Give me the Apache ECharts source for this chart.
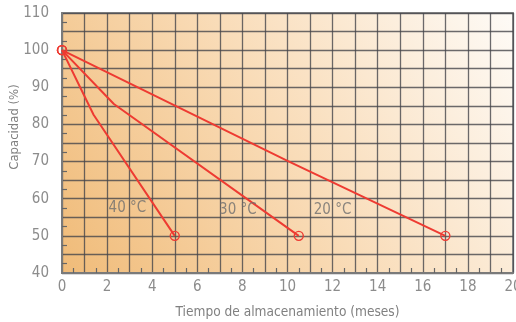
<!DOCTYPE html>
<html>
<head>
<meta charset="utf-8">
<script src="https://cdn.jsdelivr.net/npm/echarts@6/dist/echarts.min.js"></script>
<style>
  html, body { margin: 0; padding: 0; background: #fff; }
  #chart { width: 516px; height: 322px; }
</style>
</head>
<body>
<div id="chart"></div>
<script>
// datos
var temps = ['40 °C', '30 °C', '20 °C'];
var months40 = [0, 1.4, 5.0];
var cap40 = [100, 82.6, 50];
var months30 = [0, 2.3, 10.5];
var cap30 = [100, 85.5, 50];
var months20 = [0, 10, 17.0];
var cap20 = [100, 70.2, 50];
var labelMonths = [2.9, 7.8, 12.0];
var labelCap = [57.5, 57, 57];

var font = '"Liberation Sans Narrow", "DejaVu Sans Condensed", sans-serif';
var red = '#ee3b32';

function pairs(xs, ys) {
  var out = [];
  for (var i = 0; i < xs.length; i++) {
    out.push([xs[i], ys[i]]);
  }
  return out;
}

function lineSeries(name, xs, ys) {
  var last = xs.length - 1;
  return {
    name: name,
    type: 'line',
    data: pairs(xs, ys),
    symbol: function (val, params) {
      return (params.dataIndex === 0 || params.dataIndex === last) ? 'circle' : 'none';
    },
    symbolSize: 9,
    lineStyle: { color: red, width: 2 },
    itemStyle: { color: 'rgba(0,0,0,0)', borderColor: red, borderWidth: 1.4 },
    z: 5
  };
}

var labelData = [];
for (var i = 0; i < temps.length; i++) {
  labelData.push({ value: [labelMonths[i], labelCap[i]], name: temps[i] });
}

var chart = echarts.init(document.getElementById('chart'));
var option = {
  animation: false,
  grid: {
    left: 62, right: 3, top: 13, bottom: 49,
    outerBoundsMode: 'none',
    containLabel: false,
    show: true,
    borderColor: '#8a8a8a',
    borderWidth: 2,
    backgroundColor: new echarts.graphic.LinearGradient(0, 1, 1, 0, [
      { offset: 0, color: '#f0bb78' },
      { offset: 0.5, color: '#f9dcb8' },
      { offset: 1, color: '#fefbf7' }
    ])
  },
  xAxis: {
    type: 'value',
    min: 0, max: 20, interval: 1,
    name: 'Tiempo de almacenamiento (meses)',
    nameLocation: 'middle',
    nameGap: 32,
    nameTextStyle: { color: '#808080', fontFamily: font, fontSize: 13.6 },
    axisLine: { show: true, lineStyle: { color: '#7a7a7a', width: 2 } },
    axisTick: { show: false, inside: true },
    minorTick: { show: true, splitNumber: 2, length: 5, lineStyle: { color: '#666', width: 1.2 } },
    axisLabel: {
      color: '#8c8c8c', fontFamily: font, fontSize: 15, margin: 7,
      formatter: function (v) { return v % 2 === 0 ? String(v) : ''; }
    },
    splitLine: { show: true, lineStyle: { color: 'rgba(70,70,75,0.8)', width: 1.3 } }
  },
  yAxis: {
    type: 'value',
    min: 40, max: 110, interval: 5,
    axisLine: { show: true, lineStyle: { color: '#7a7a7a', width: 2 } },
    axisTick: { show: false, inside: true },
    minorTick: { show: true, splitNumber: 2, length: 5, lineStyle: { color: '#666', width: 1.2 } },
    axisLabel: {
      color: '#8c8c8c', fontFamily: font, fontSize: 15, margin: 13,
      formatter: function (v) { return v % 10 === 0 ? String(v) : ''; }
    },
    splitLine: { show: true, lineStyle: { color: 'rgba(70,70,75,0.8)', width: 1.3 } }
  },
  graphic: [{
    type: 'text',
    x: 15, y: 127,
    rotation: Math.PI / 2,
    style: {
      text: 'Capacidad (%)',
      fill: '#808080',
      font: '13px ' + font,
      textAlign: 'center',
      textVerticalAlign: 'middle'
    }
  }],
  series: [
    lineSeries(temps[0], months40, cap40),
    lineSeries(temps[1], months30, cap30),
    lineSeries(temps[2], months20, cap20),
    {
      type: 'scatter',
      data: labelData,
      symbolSize: 0,
      z: 6,
      label: {
        show: true,
        position: 'inside',
        formatter: '{b}',
        color: '#6e6e6e',
        fontFamily: font,
        fontSize: 15
      }
    }
  ]
};
chart.setOption(option);
</script>
</body>
</html>
